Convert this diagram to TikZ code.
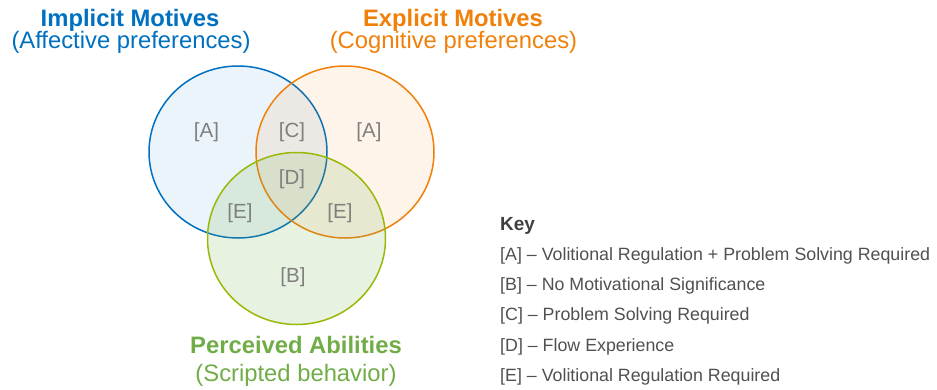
\documentclass[tikz,border=0pt]{standalone}
\usepackage{fontspec}
\setmainfont{Liberation Sans}
\definecolor{imblue}{RGB}{0,112,192}
\definecolor{exorange}{RGB}{240,128,10}
\definecolor{pagreen}{RGB}{112,173,71}
\definecolor{pastroke}{RGB}{152,185,10}
\definecolor{regiongray}{RGB}{128,128,128}
\definecolor{keygray}{RGB}{80,80,80}
\definecolor{keyhead}{RGB}{64,64,64}
\tikzset{
  txt/.style={anchor=base, inner sep=0pt},
  title/.style={txt, font=\fontsize{23.8bp}{28bp}\selectfont\bfseries},
  subtitle/.style={txt, font=\fontsize{23.8bp}{28bp}\selectfont},
  region/.style={txt, text=regiongray, font=\fontsize{20.5bp}{24bp}\selectfont},
  keyline/.style={txt, anchor=base west, text=keygray, font=\fontsize{17.8bp}{21bp}\selectfont},
  keyhd/.style={txt, anchor=base west, text=keyhead, font=\fontsize{19bp}{23bp}\selectfont\bfseries},
  venn/.style={line width=1.5bp},
}
\begin{document}
\begin{tikzpicture}[x=1bp,y=-1bp]
\useasboundingbox (0,0) rectangle (937,389);
% circles
\path[venn, draw=imblue, fill=imblue, fill opacity=0.08]
  (238,152) ellipse [x radius=89bp, y radius=86bp];
\path[venn, draw=exorange, fill=exorange, fill opacity=0.09]
  (345,152) ellipse [x radius=89bp, y radius=86bp];
\path[venn, draw=pastroke, fill=pagreen, fill opacity=0.16]
  (296.5,238.5) ellipse [x radius=89bp, y radius=86bp];
% titles
\node[title, text=imblue] (t1) at (130,26) {Implicit Motives};
\node[subtitle, text=imblue] (s1) at (131,48) {(Affective preferences)};
\node[title, text=exorange] (t2) at (453,26) {Explicit Motives};
\node[subtitle, text=exorange] (s2) at (453.5,48) {(Cognitive preferences)};
\node[title, text=pagreen] (t3) at (296,353) {Perceived Abilities};
\node[subtitle, text=pagreen] (s3) at (296,381) {(Scripted behavior)};
% region labels
\node[region] (ra1) at (206.5,137) {[A]};
\node[region] (rc) at (292,137) {[C]};
\node[region] (ra2) at (369,137) {[A]};
\node[region] (rd) at (292,184) {[D]};
\node[region] (re1) at (240,218) {[E]};
\node[region] (re2) at (340,218) {[E]};
\node[region] (rb) at (293,282.5) {[B]};
% key
\node[keyhd] (key) at (500,230) {Key};
\node[keyline] (ka) at (500,260) {[A] – Volitional Regulation + Problem Solving Required};
\node[keyline] (kb) at (500,290) {[B] – No Motivational Significance};
\node[keyline] (kc) at (500,320.5) {[C] – Problem Solving Required};
\node[keyline] (kd) at (500,351) {[D] – Flow Experience};
\node[keyline] (ke) at (500,381.5) {[E] – Volitional Regulation Required};
\end{tikzpicture}
\end{document}
